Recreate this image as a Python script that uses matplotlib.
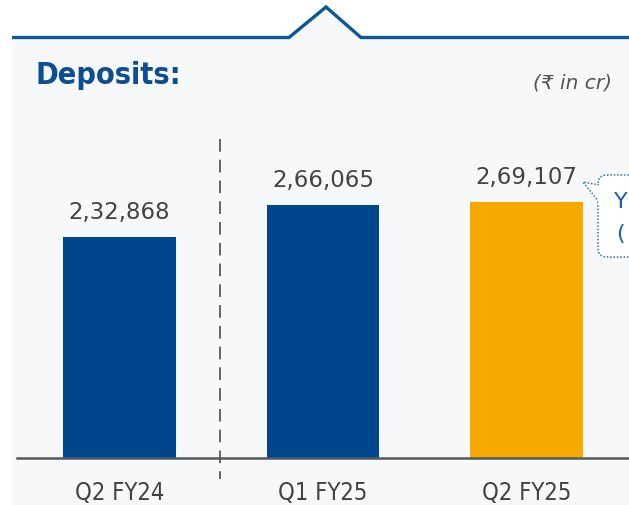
import matplotlib
matplotlib.use('Agg')
import numpy as np
from matplotlib import pyplot as plt
from matplotlib.patches import Polygon, FancyBboxPatch

# data
quarters = ['Q2 FY24', 'Q1 FY25', 'Q2 FY25']
deposits = [232868, 266065, 269107]
value_labels = ['2,32,868', '2,66,065', '2,69,107']
bar_colors = ['#00468c', '#00468c', '#f5a800']

W, H = 629, 506
fig = plt.figure(figsize=(W / 100, H / 100), dpi=100)
fig.patch.set_facecolor('white')

# overlay in pixel coords for the slide decorations
deco = fig.add_axes([0, 0, 1, 1], zorder=0)
deco.set_xlim(0, W)
deco.set_ylim(H, 0)
deco.axis('off')

# light panel + top rule with the little notch
panel = Polygon([(12, 38.5), (289, 38.5), (326, 8), (361, 38.5), (W, 38.5), (W, H), (12, H)],
                closed=True, facecolor='#f7f8f9', edgecolor='none')
deco.add_patch(panel)
deco.plot([12, 289, 326, 361, W], [38.5, 38.5, 8, 38.5, 38.5], color='#0b579c', lw=2.4,
          solid_joinstyle='miter', solid_capstyle='butt')

fig.text(35 / W, 1 - 76 / H, 'Deposits:', fontsize=22, fontweight='bold', color='#0d4d91',
         fontstretch='condensed', va='center', ha='left')
fig.text(612 / W, 1 - 83 / H, '(₹ in cr)', fontsize=14.5, style='italic', color='#555555',
         family=['DejaVu Sans', 'Noto Sans'], va='center', ha='right')

# speech bubble cut off at the right edge
bubble = FancyBboxPatch((598, 176), 120, 82, boxstyle='round,pad=0,rounding_size=9',
                        facecolor='white', edgecolor='#2f6fb3', lw=1.1, linestyle=(0, (1, 1.2)))
deco.add_patch(bubble)
deco.add_patch(Polygon([(599, 186), (583, 183), (599, 203)], closed=False,
                       facecolor='white', edgecolor='#2f6fb3', lw=1.1, linestyle=(0, (1, 1.2))))
deco.plot([599, 599], [186.5, 202.5], color='white', lw=2)
fig.text(614 / W, 1 - 202 / H, 'Y', fontsize=16, color='#1c5ea8', va='center', ha='left')
fig.text(616 / W, 1 - 234 / H, '(', fontsize=16, color='#1c5ea8', va='center', ha='left')

# bar chart
ax = fig.add_axes([17 / W, 1 - 459 / H, (W - 17) / W, (459 - 100) / H], zorder=1)
ax.patch.set_alpha(0)
x = np.arange(len(quarters))
bars = ax.bar(x, deposits, width=0.555, color=bar_colors, zorder=2)
ax.set_xlim(-0.504, 2.504)
ax.set_ylim(0, 377700)

for b, lab in zip(bars, value_labels):
    ax.annotate(lab, (b.get_x() + b.get_width() / 2, b.get_height()), xytext=(0, 13.5),
                textcoords='offset points', ha='center', va='baseline', fontsize=16.5,
                color='#404448')

for s in ['top', 'right', 'left']:
    ax.spines[s].set_visible(False)
ax.spines['bottom'].set_color('#555a5e')
ax.spines['bottom'].set_linewidth(1.8)
ax.set_yticks([])
ax.set_xticks(x)
ax.set_xticklabels(quarters, fontsize=17, color='#404448', fontstretch='condensed')
ax.tick_params(axis='x', length=0, pad=16)

# dashed separator between last year and this year
sep = (x[0] + x[1]) / 2 - 0.006
ax.plot([sep, sep], [335600, -22000], color='#555a5e', lw=1.3, dashes=(7, 4.5),
        clip_on=False, zorder=3)

fig.savefig('out.png', dpi=100)
